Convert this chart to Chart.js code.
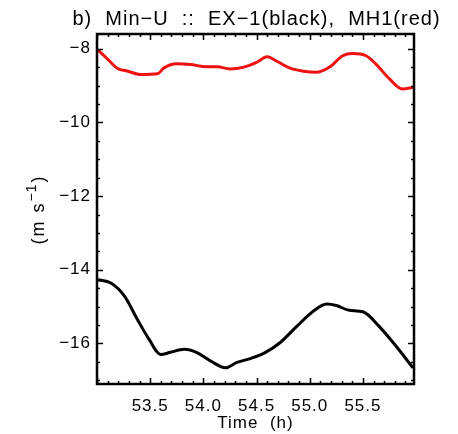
<!DOCTYPE html>
<html>
<head>
<meta charset="utf-8">
<script src="https://cdn.jsdelivr.net/npm/chart.js@4.4.1/dist/chart.umd.min.js"></script>
<style>
  html, body { margin: 0; padding: 0; background: #fff; }
  #wrap { width: 458px; height: 434px; position: relative; }
</style>
</head>
<body>
<div id="wrap"><canvas id="c" width="458" height="434"></canvas></div>
<script>
// Time axis (hours) and minimum zonal wind for the two runs
const timeEX1 = [53.01, 53.13, 53.26, 53.38, 53.49, 53.60, 53.69, 53.82, 53.94, 54.07, 54.21, 54.31,
                 54.44, 54.58, 54.72, 54.88, 55.03, 55.16, 55.25, 55.37, 55.50, 55.65, 55.81, 55.97];
const minUEX1 = [-14.27, -14.36, -14.72, -15.35, -15.89, -16.30, -16.24, -16.16, -16.25, -16.48, -16.66, -16.52,
                 -16.41, -16.25, -15.98, -15.53, -15.13, -14.93, -14.97, -15.10, -15.14, -15.53, -16.07, -16.66];

const timeMH1 = [53.01, 53.10, 53.19, 53.29, 53.41, 53.57, 53.63, 53.75, 53.88, 54.03, 54.13, 54.25, 54.38,
                 54.50, 54.60, 54.69, 54.81, 54.94, 55.06, 55.19, 55.31, 55.40, 55.53, 55.62, 55.75, 55.87, 55.97];
const minUMH1 = [-8.04, -8.28, -8.53, -8.61, -8.70, -8.68, -8.52, -8.41, -8.43, -8.49, -8.49, -8.55, -8.50,
                 -8.37, -8.22, -8.34, -8.52, -8.61, -8.64, -8.49, -8.19, -8.13, -8.19, -8.41, -8.82, -9.09, -9.05];

const xTicks = [53.5, 54.0, 54.5, 55.0, 55.5];
const yTicks = [-16, -14, -12, -10, -8];

const titleText = 'b)  Min\u2212U  ::  EX\u22121(black),  MH1(red)';
const xTitle = 'Time  (h)';
const yTitleMain = '(m s';
const yTitleSup = '\u22121';
const yTitleEnd = ')';

const FONT = '"Liberation Sans", Arial, Helvetica, sans-serif';

const toXY = (xs, ys) => xs.map((x, i) => ({ x: x, y: ys[i] }));

// Slightly wider glyph spacing for every label on the canvas
const spacingPlugin = {
  id: 'spacing',
  beforeDraw(chart) { chart.ctx.letterSpacing = '1px'; }
};

// Frame, inward ticks on all four sides, and the text labels
const framePlugin = {
  id: 'frame',
  afterDatasetsDraw(chart) {
    const { ctx, chartArea: a, scales } = chart;
    const xs = scales.x, ys = scales.y;
    ctx.save();
    ctx.strokeStyle = '#000';
    ctx.lineWidth = 1.5;
    ctx.beginPath();
    // x ticks: minor every 0.1 h, major every 0.5 h
    for (let k = Math.ceil(xs.min * 10); k <= Math.floor(xs.max * 10); k++) {
      const v = k / 10;
      const px = Math.round(xs.getPixelForValue(v)) + 0.5;
      const len = (k % 5 === 0) ? 6 : 3;
      ctx.moveTo(px, a.bottom); ctx.lineTo(px, a.bottom - len);
      ctx.moveTo(px, a.top); ctx.lineTo(px, a.top + len);
    }
    // y ticks: minor every 0.5, major every 2
    for (let k = Math.ceil(ys.min * 2); k <= Math.floor(ys.max * 2); k++) {
      const v = k / 2;
      const py = Math.round(ys.getPixelForValue(v)) + 0.5;
      const len = (k % 4 === 0) ? 6 : 3;
      ctx.moveTo(a.left, py); ctx.lineTo(a.left + len, py);
      ctx.moveTo(a.right, py); ctx.lineTo(a.right - len, py);
    }
    ctx.stroke();
    ctx.lineWidth = 2.5;
    ctx.strokeRect(a.left, a.top, a.right - a.left, a.bottom - a.top);

    ctx.fillStyle = '#000';
    ctx.textBaseline = 'alphabetic';
    // plot title
    ctx.font = '20px ' + FONT;
    ctx.letterSpacing = '1px';
    ctx.textAlign = 'center';
    ctx.fillText(titleText, (a.left + a.right) / 2 + 1, 25);
    // x-axis title
    ctx.font = '17px ' + FONT;
    ctx.letterSpacing = '1px';
    ctx.fillText(xTitle, (a.left + a.right) / 2, 428);
    // y-axis title with raised exponent
    ctx.translate(44, 210);
    ctx.rotate(-Math.PI / 2);
    ctx.textAlign = 'left';
    ctx.font = '18px ' + FONT;
    ctx.letterSpacing = '2px';
    const w1 = ctx.measureText(yTitleMain).width;
    ctx.font = '14px ' + FONT;
    ctx.letterSpacing = '1px';
    const w2 = ctx.measureText(yTitleSup).width;
    ctx.font = '18px ' + FONT;
    ctx.letterSpacing = '2px';
    const w3 = ctx.measureText(yTitleEnd).width;
    let x0 = -(w1 + w2 + w3) / 2;
    ctx.fillText(yTitleMain, x0, 0);
    ctx.font = '14px ' + FONT;
    ctx.letterSpacing = '1px';
    ctx.fillText(yTitleSup, x0 + w1, -8);
    ctx.font = '18px ' + FONT;
    ctx.letterSpacing = '2px';
    ctx.fillText(yTitleEnd, x0 + w1 + w2 + 1, 0);
    ctx.restore();
  }
};

new Chart(document.getElementById('c'), {
  type: 'line',
  data: {
    datasets: [
      { label: 'EX-1', data: toXY(timeEX1, minUEX1), borderColor: '#000', borderWidth: 3,
        pointRadius: 0, tension: 0.4, cubicInterpolationMode: 'monotone', fill: false },
      { label: 'MH1', data: toXY(timeMH1, minUMH1), borderColor: '#ee1111', borderWidth: 3,
        pointRadius: 0, tension: 0.4, cubicInterpolationMode: 'monotone', fill: false }
    ]
  },
  options: {
    responsive: false,
    animation: false,
    layout: { padding: { top: 34, right: 44, left: 0, bottom: 0 } },
    plugins: { legend: { display: false }, title: { display: false }, tooltip: { enabled: false } },
    scales: {
      x: {
        type: 'linear', min: 53.0, max: 55.98,
        grid: { display: false, drawTicks: false },
        border: { display: false },
        afterBuildTicks: s => { s.ticks = xTicks.map(v => ({ value: v })); },
        afterFit: s => { s.height = 434 - 384; },
        ticks: { color: '#000', font: { family: FONT, size: 17 }, padding: 12, maxRotation: 0,
                 callback: v => v.toFixed(1) }
      },
      y: {
        type: 'linear', min: -17.1, max: -7.6,
        grid: { display: false, drawTicks: false },
        border: { display: false },
        afterBuildTicks: s => { s.ticks = yTicks.map(v => ({ value: v })); },
        afterFit: s => { s.width = 97; },
        ticks: { color: '#000', font: { family: FONT, size: 17 }, padding: 6,
                 callback: v => (v < 0 ? '\u2212' + Math.abs(v) : String(v)) }
      }
    }
  },
  plugins: [spacingPlugin, framePlugin]
});
</script>
</body>
</html>
